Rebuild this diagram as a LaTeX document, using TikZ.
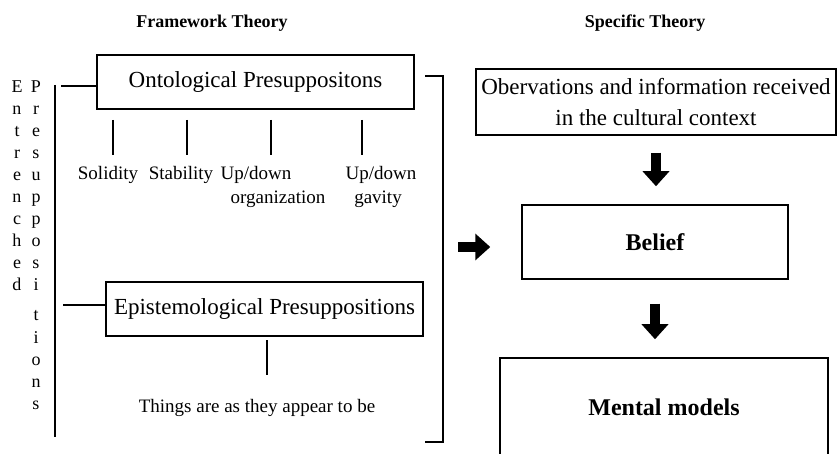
\documentclass[tikz,border=0pt]{standalone}
\usepackage{fontspec}
\setmainfont{Liberation Serif}
\usetikzlibrary{arrows.meta}
\begin{document}
\begin{tikzpicture}[x=1pt,y=-1pt,
  box/.style={draw, line width=1.5pt, inner sep=0pt, align=center, font=\fontsize{23}{31}\selectfont},
  bbox/.style={box, font=\fontsize{24}{28}\selectfont\bfseries},
  lbl/.style={inner sep=0pt, anchor=base, font=\fontsize{19}{23}\selectfont},
  ttl/.style={inner sep=0pt, anchor=base, font=\fontsize{18}{22}\selectfont\bfseries},
  ltr/.style={inner sep=0pt, anchor=base, font=\fontsize{18}{20}\selectfont},
  ln/.style={line width=1.4pt},
  fat/.style={line width=10pt, -{Triangle[length=15pt,width=26pt]}}]
\useasboundingbox (0,0) rectangle (838,454);
\clip (0,0) rectangle (838,454);

% titles
\node[ttl] (ft) at (212,28) {Framework Theory};
\node[ttl] (st) at (645,28) {Specific Theory};

% boxes
\node[box, minimum width=317pt, minimum height=54pt] (ont) at (255.5,82) {Ontological Presuppositons};
\node[box, minimum width=317pt, minimum height=54pt] (epi) at (264.5,309) {Epistemological Presuppositions};
\node[box, minimum width=360pt, minimum height=66pt] (obs) at (656,102) {Obervations and information received\\in the cultural context};
\node[bbox, minimum width=266pt, minimum height=74pt] (bel) at (655,242) {Belief};
\node[bbox, minimum width=328pt, minimum height=98pt] (men) at (664,407) {Mental models};

% labels
\node[lbl] (sol) at (108,180) {Solidity};
\node[lbl] (sta) at (181,180) {Stability};
\node[lbl] (ud1) at (256,180) {Up/down};
\node[lbl] (org) at (278,204) {organization};
\node[lbl] (ud2) at (381,180) {Up/down};
\node[lbl] (gav) at (378,204) {gavity};
\node[lbl] (thg) at (257,412) {Things are as they appear to be};

% stubs
\coordinate (s1a) at (113,120); \coordinate (s1b) at (113,155);
\coordinate (s2a) at (187,120); \coordinate (s2b) at (187,155);
\coordinate (s3a) at (271,120); \coordinate (s3b) at (271,155);
\coordinate (s4a) at (362,120); \coordinate (s4b) at (362,155);
\coordinate (s5a) at (267,340); \coordinate (s5b) at (267,375);
\foreach \k in {1,...,5} \draw[ln] (s\k a) -- (s\k b);

% left vertical line and connectors
\coordinate (vt) at (55,85); \coordinate (vb) at (55,437);
\draw[ln] (vt) -- (vb);
\coordinate (c1) at (61,86); \draw[ln] (c1) -- (c1 -| ont.west);
\coordinate (c2) at (63,305); \draw[ln] (c2) -- (c2 -| epi.west);

% right bracket
\coordinate (btl) at (425,76); \coordinate (bt) at (443,76);
\coordinate (bb) at (443,442); \coordinate (bbl) at (425,442);
\draw[ln] (btl) -- (bt) -- (bb) -- (bbl);

% fat arrows
\coordinate (brk) at (443,247);
\draw[fat, shorten <=15pt, shorten >=31pt] (brk) -- (brk -| bel.west);
\draw[fat, shorten <=17pt, shorten >=18pt] (obs.south) -- (obs.south |- bel.north);
\draw[fat, shorten <=24pt, shorten >=18pt] (bel.south) -- (bel.south |- men.north);

% vertical words
\foreach \c [count=\i] in {E,n,t,r,e,n,c,h,e,d}
  \node[ltr] (en\i) at (17,{93+22*(\i-1)}) {\c};
\foreach \c [count=\i] in {P,r,e,s,u,p,p,o,s,i}
  \node[ltr] (pa\i) at (36,{93+22*(\i-1)}) {\c};
\foreach \c [count=\i] in {t,i,o,n,s}
  \node[ltr] (pb\i) at (36,{321+22*(\i-1)}) {\c};
\end{tikzpicture}
\end{document}
